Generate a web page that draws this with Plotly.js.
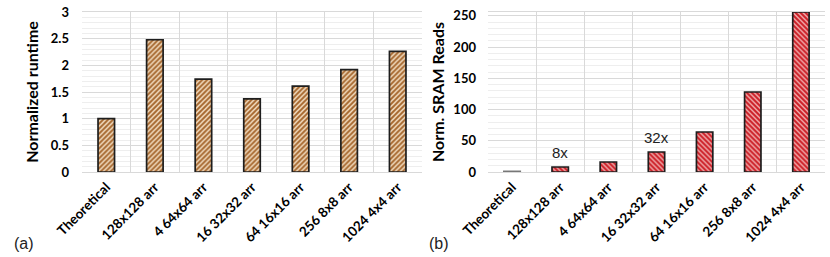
<!DOCTYPE html>
<html>
<head>
<meta charset="utf-8">
<script src="https://cdn.plot.ly/plotly-3.0.1.min.js"></script>
<style>
  html, body { margin: 0; padding: 0; background: #fff; }
  #chart { width: 830px; height: 257px; }
</style>
</head>
<body>
<div id="chart"></div>
<script>
// ---- data ----
const categories = ['Theoretical', '128x128 arr', '4 64x64 arr', '16 32x32 arr', '64 16x16 arr', '256 8x8 arr', '1024 4x4 arr'];
const runtimeValues = [1.0, 2.48, 1.74, 1.37, 1.61, 1.92, 2.26];
const sramReadValues = [1, 8, 16, 32, 64, 128, 256];
const sramLabelCategories = ['128x128 arr', '16 32x32 arr'];
const sramLabelValues = [8, 32];
const sramLabelTexts = ['8x', '32x'];
const runtimeTicks = [0, 0.5, 1, 1.5, 2, 2.5, 3];
const runtimeTickText = ['0', '0.5', '1', '1.5', '2', '2.5', '3'];
const sramTicks = [0, 50, 100, 150, 200, 250];
const panelLabels = ['(a)', '(b)'];

const xTickFont = {family: 'Lato, "Open Sans", sans-serif', size: 13.5, color: '#000', weight: 'bold'};
const yTickFont = {family: 'Lato, "Open Sans", sans-serif', size: 13, color: '#000', weight: 'bold'};
const titleFont = {family: 'Lato, "Open Sans", sans-serif', size: 16, color: '#000', weight: 'bold'};
const majorGrid = '#d9d9d9';
const minorGrid = '#eeeeee';

const traces = [
  {
    type: 'bar', x: categories, y: runtimeValues, xaxis: 'x', yaxis: 'y',
    marker: {
      color: '#ffffff',
      pattern: {shape: '/', fgcolor: '#a4642a', bgcolor: '#f3dfc4', size: 3.5, solidity: 0.55},
      line: {color: '#1e1e1e', width: 1.7}
    },
    hoverinfo: 'none', showlegend: false
  },
  {
    type: 'bar', x: categories, y: sramReadValues, xaxis: 'x2', yaxis: 'y2',
    marker: {
      color: '#ffffff',
      pattern: {shape: '\\', fgcolor: '#cc1c24', bgcolor: '#f2b5b5', size: 3.5, solidity: 0.6},
      line: {color: categories.map((c, i) => i === 0 ? '#777777' : '#1e1e1e'), width: 1.7}
    },
    hoverinfo: 'none', showlegend: false
  }
];

const xBase = {
  type: 'category', tickson: 'boundaries', showgrid: true, gridcolor: majorGrid, gridwidth: 1,
  tickangle: -45, tickfont: xTickFont, ticks: '', showline: true, linecolor: majorGrid, linewidth: 1,
  mirror: true, fixedrange: true, zeroline: false, ticklabelstandoff: 1
};

const layout = {
  width: 830, height: 257,
  margin: {l: 82, r: 5, t: 12, b: 85},
  paper_bgcolor: '#ffffff', plot_bgcolor: '#ffffff',
  bargap: 0.66,
  font: {family: 'Lato, sans-serif', color: '#000'},
  xaxis: Object.assign({}, xBase, {domain: [0, 0.4576], anchor: 'y'}),
  xaxis2: Object.assign({}, xBase, {domain: [0.5464, 1], anchor: 'y2'}),
  yaxis: {
    range: [0, 3], tickvals: runtimeTicks, ticktext: runtimeTickText, tickfont: yTickFont,
    showgrid: true, gridcolor: majorGrid, gridwidth: 1, zeroline: false, ticks: '',
    minor: {dtick: 0.1, showgrid: true, gridcolor: minorGrid, gridwidth: 1},
    title: {text: 'Normalized runtime', font: titleFont, standoff: 8},
    anchor: 'x', fixedrange: true, ticklabelstandoff: 12
  },
  yaxis2: {
    range: [0, 256], tickvals: sramTicks, tickfont: yTickFont,
    showgrid: true, gridcolor: majorGrid, gridwidth: 1, zeroline: false, ticks: '',
    minor: {dtick: 10, showgrid: true, gridcolor: minorGrid, gridwidth: 1},
    title: {text: 'Norm. SRAM Reads', font: titleFont, standoff: 4},
    anchor: 'x2', fixedrange: true, ticklabelstandoff: 11
  },
  annotations: sramLabelCategories.map((c, i) => ({
    x: c, y: sramLabelValues[i], xref: 'x2', yref: 'y2', text: sramLabelTexts[i],
    showarrow: false, yanchor: 'bottom', yshift: 4,
    font: {family: '"Liberation Sans", Arial, sans-serif', size: 15, color: '#222'}
  })).concat(panelLabels.map((t, i) => ({
    x: i === 0 ? 24 : 439, y: 243, xref: 'paper', yref: 'paper', text: t, showarrow: false,
    xanchor: 'center', yanchor: 'middle',
    font: {family: '"Liberation Sans", Arial, sans-serif', size: 16, color: '#222'}
  })))
};

// convert panel-label pixel positions into paper coords
layout.annotations.forEach(a => {
  if (a.xref === 'paper') {
    const pw = 830 - layout.margin.l - layout.margin.r;
    const ph = 257 - layout.margin.t - layout.margin.b;
    a.x = (a.x - layout.margin.l) / pw;
    a.y = (257 - layout.margin.b - a.y) / ph;
  }
});

Plotly.newPlot('chart', traces, layout, {staticPlot: true, displayModeBar: false});
</script>
</body>
</html>
